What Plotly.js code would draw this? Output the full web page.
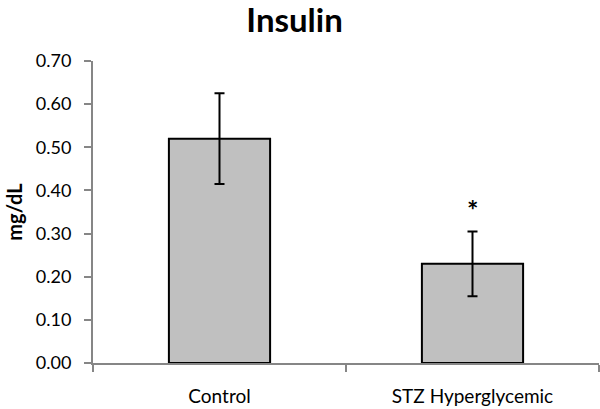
<!DOCTYPE html>
<html>
<head>
<meta charset="utf-8">
<script src="https://cdn.plot.ly/plotly-3.0.1.min.js"></script>
<style>html,body{margin:0;padding:0;background:#fff;}#chart{width:600px;height:409px;}</style>
</head>
<body>
<div id="chart"></div>
<script>
const categories = ["Control", "STZ Hyperglycemic"];
const values = [0.52, 0.23];
const errors = [0.105, 0.075];
const yTicks = [0, 0.1, 0.2, 0.3, 0.4, 0.5, 0.6, 0.7];
const yTickLabels = ["0.00", "0.10", "0.20", "0.30", "0.40", "0.50", "0.60", "0.70"];
const significance = ["", "*"];
const sigY = [null, 0.355];

const FONT = "Lato, 'Open Sans', sans-serif";

const trace = {
  type: "bar",
  x: categories,
  y: values,
  width: 0.4,
  marker: { color: "#c0c0c0", line: { color: "#000", width: 2 } },
  error_y: { type: "data", array: errors, visible: true, color: "#000", thickness: 2, width: 5 },
  hoverinfo: "none"
};

const annotations = [];
categories.forEach((c, i) => {
  if (significance[i]) {
    annotations.push({
      x: c, y: sigY[i], xref: "x", yref: "y",
      text: "<b>" + significance[i] + "</b>",
      showarrow: false,
      font: { family: FONT, size: 27, color: "#000" },
      yanchor: "middle"
    });
  }
});

const layout = {
  width: 600, height: 409,
  margin: { l: 93, r: 1, t: 61, b: 46 },
  paper_bgcolor: "#fff",
  plot_bgcolor: "#fff",
  showlegend: false,
  title: {
    text: "<b>Insulin</b>",
    font: { family: FONT, size: 33, color: "#000" },
    x: 0.491, xref: "container", xanchor: "center",
    y: 0.95, yref: "container", yanchor: "middle"
  },
  xaxis: {
    type: "category",
    range: [-0.5, 1.5],
    showline: true, linecolor: "#868686", linewidth: 2,
    ticks: "outside", tickson: "boundaries", ticklen: 7, tickcolor: "#868686", tickwidth: 2,
    showgrid: false, zeroline: false,
    tickfont: { family: FONT, size: 19, color: "#000" },
    ticklabelstandoff: 15,
    fixedrange: true
  },
  yaxis: {
    range: [0, 0.7],
    tickvals: yTicks, ticktext: yTickLabels,
    showline: true, linecolor: "#868686", linewidth: 2,
    ticks: "outside", ticklen: 7, tickcolor: "#868686", tickwidth: 2,
    showgrid: false, zeroline: false,
    tickfont: { family: FONT, size: 18, color: "#000" },
    ticklabelstandoff: 9,
    title: { text: "<b>mg/dL</b>", font: { family: FONT, size: 20, color: "#000" }, standoff: 8 },
    fixedrange: true
  },
  annotations: annotations
};

Plotly.newPlot("chart", [trace], layout, { staticPlot: true, displayModeBar: false });
</script>
</body>
</html>
